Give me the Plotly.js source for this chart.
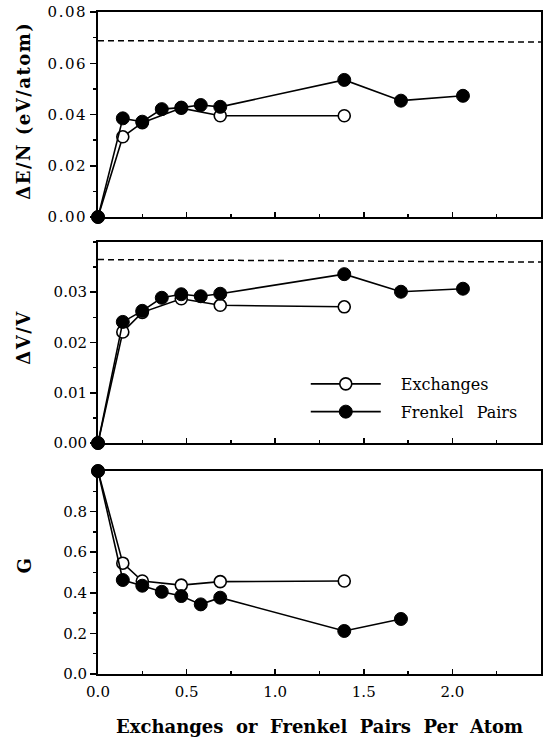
<!DOCTYPE html>
<html>
<head>
<meta charset="utf-8">
<script src="https://cdn.plot.ly/plotly-3.0.1.min.js"></script>
<style>
  html, body { margin: 0; padding: 0; background: #fff; }
  #chart { width: 550px; height: 738px; }
  .xtick text, .ytick text { letter-spacing: 1.5px; }
  .annotation-text { letter-spacing: 1.5px; }
  .g-xtitle text { word-spacing: 14px; }
  .legendtext { word-spacing: 8px; }
</style>
</head>
<body>
<div id="chart"></div>
<script>
// ---- data ----
const xFrenkel = [0, 0.14, 0.25, 0.36, 0.47, 0.58, 0.69, 1.39, 1.71, 2.06];
const xExchanges = [0, 0.14, 0.25, 0.47, 0.69, 1.39];

const dEFrenkel = [0, 0.0385, 0.0372, 0.0421, 0.0427, 0.0437, 0.0430, 0.0535, 0.0454, 0.0473];
const dEExchanges = [0, 0.0313, 0.0368, 0.0425, 0.0395, 0.0395];

const dVFrenkel = [0, 0.0241, 0.0263, 0.0289, 0.0296, 0.0292, 0.0297, 0.0336, 0.0301, 0.0307];
const dVExchanges = [0, 0.0221, 0.0260, 0.0287, 0.0274, 0.0271];

const GFrenkel = [1.0, 0.463, 0.435, 0.405, 0.384, 0.343, 0.376, 0.212, 0.271, null];
const GExchanges = [1.0, 0.546, 0.458, 0.438, 0.455, 0.458];

// dashed reference levels (left end, right end)
const refX = [0, 2.5];
const refE = [0.0688, 0.0683];
const refV = [0.0365, 0.0360];

const seriesNames = ['Exchanges', 'Frenkel Pairs'];
const yTitles = ['\u0394E/N (eV/atom)', '\u0394V/V', 'G'];
const xTitle = 'Exchanges  or  Frenkel  Pairs  Per  Atom';

// ---- styling ----
const FONT = 'DejaVu Serif';
const openMarker = {symbol: 'circle', size: 12, color: '#fff', line: {color: '#000', width: 1.6}};
const fillMarker = {symbol: 'circle', size: 13, color: '#000', line: {color: '#000', width: 1}};
const lineStyle = {color: '#000', width: 1.6};

function pair(x1, y1, x2, y2, xa, ya, showLeg) {
  return [
    {x: x1, y: y1, xaxis: xa, yaxis: ya, type: 'scatter', mode: 'lines+markers',
     name: seriesNames[0], legendgroup: 'ex', line: lineStyle, marker: openMarker,
     showlegend: showLeg, cliponaxis: false},
    {x: x2, y: y2, xaxis: xa, yaxis: ya, type: 'scatter', mode: 'lines+markers',
     name: seriesNames[1], legendgroup: 'fp', line: lineStyle, marker: fillMarker,
     showlegend: showLeg, cliponaxis: false}
  ];
}

const traces = [
  {x: refX, y: refE, xaxis: 'x', yaxis: 'y', type: 'scatter', mode: 'lines',
   line: {color: '#000', width: 1.5, dash: '6px,4px'}, showlegend: false, hoverinfo: 'skip'},
  {x: refX, y: refV, xaxis: 'x2', yaxis: 'y2', type: 'scatter', mode: 'lines',
   line: {color: '#000', width: 1.5, dash: '6px,4px'}, showlegend: false, hoverinfo: 'skip'},
  ...pair(xExchanges, dEExchanges, xFrenkel, dEFrenkel, 'x', 'y', false),
  ...pair(xExchanges, dVExchanges, xFrenkel, dVFrenkel, 'x2', 'y2', true),
  ...pair(xExchanges, GExchanges, xFrenkel, GFrenkel, 'x3', 'y3', false)
];

const tickFont = {family: FONT, size: 15, color: '#000'};

function xAxis(anchor, labels) {
  return {
    anchor: anchor, range: [0, 2.5005], dtick: 0.5, tick0: 0,
    showline: true, linecolor: '#000', linewidth: 2, mirror: true,
    ticks: 'inside', ticklen: 5, tickwidth: 1.5, tickcolor: '#000',
    minor: {ticks: 'inside', ticklen: 3, tickwidth: 1.3, tickcolor: '#000', dtick: 0.25},
    showgrid: false, zeroline: false, showticklabels: labels,
    tickformat: '.1f', tickfont: tickFont, ticklabelstandoff: 3
  };
}
function yAxis(anchor, domain, range, tickvals, fmt, minorD) {
  return {
    anchor: anchor, domain: domain, range: range, tickvals: tickvals, tickformat: fmt,
    showline: true, linecolor: '#000', linewidth: 2, mirror: true,
    ticks: 'outside', ticklen: 6, tickwidth: 1.5, tickcolor: '#000',
    minor: {ticks: 'outside', ticklen: 3, tickwidth: 1.3, tickcolor: '#000', dtick: minorD},
    showgrid: false, zeroline: false, tickfont: tickFont
  };
}

const layout = {
  width: 550, height: 738,
  margin: {l: 98, r: 9, t: 12, b: 64},
  paper_bgcolor: '#fff', plot_bgcolor: '#fff',
  font: {family: FONT, color: '#000'},
  xaxis: xAxis('y', false),
  xaxis2: xAxis('y2', false),
  xaxis3: Object.assign(xAxis('y3', true), {
    title: {text: xTitle, font: {family: FONT, size: 18, color: '#000', weight: 'bold'}, standoff: 20}
  }),
  yaxis: yAxis('x', [0.6903, 1], [0, 0.08], [0, 0.02, 0.04, 0.06, 0.08], '.2f', 0.01),
  yaxis2: yAxis('x2', [0.3489, 0.6526], [0, 0.04], [0, 0.01, 0.02, 0.03], '.2f', 0.005),
  yaxis3: yAxis('x3', [0, 0.3066], [0, 1.0], [0, 0.2, 0.4, 0.6, 0.8], '.1f', 0.1),
  legend: {x: 0.469, y: 0.417, xanchor: 'left', yanchor: 'middle', itemwidth: 70,
           tracegroupgap: 4, bgcolor: 'rgba(0,0,0,0)',
           font: {family: FONT, size: 16, color: '#000'}},
  annotations: [
    {text: yTitles[0], xref: 'paper', yref: 'paper', x: -0.167, y: 0.851, textangle: -90,
     showarrow: false, xanchor: 'center', yanchor: 'middle',
     font: {family: FONT, size: 18, color: '#000', weight: 'bold'}},
    {text: yTitles[1], xref: 'paper', yref: 'paper', x: -0.167, y: 0.508, textangle: -90,
     showarrow: false, xanchor: 'center', yanchor: 'middle',
     font: {family: FONT, size: 18, color: '#000', weight: 'bold'}},
    {text: yTitles[2], xref: 'paper', yref: 'paper', x: -0.167, y: 0.164, textangle: -90,
     showarrow: false, xanchor: 'center', yanchor: 'middle',
     font: {family: FONT, size: 18, color: '#000', weight: 'bold'}}
  ],
  showlegend: true
};

const gd = document.getElementById('chart');
function shiftLegendText() {
  // widen the gap between legend symbol and label, as in the original figure
  gd.querySelectorAll('.scrollbox').forEach(function (g) { g.removeAttribute('clip-path'); });
  gd.querySelectorAll('text.legendtext').forEach(function (t) {
    const x = parseFloat(t.getAttribute('x') || '0');
    if (t.dataset.sx !== String(x)) {
      const nx = x + 15;
      t.setAttribute('x', nx);
      t.dataset.sx = String(nx);
    }
  });
}
Plotly.newPlot(gd, traces, layout, {displayModeBar: false, staticPlot: true}).then(function () {
  shiftLegendText();
  gd.on('plotly_afterplot', shiftLegendText);
  setTimeout(shiftLegendText, 50);
});
</script>
</body>
</html>
